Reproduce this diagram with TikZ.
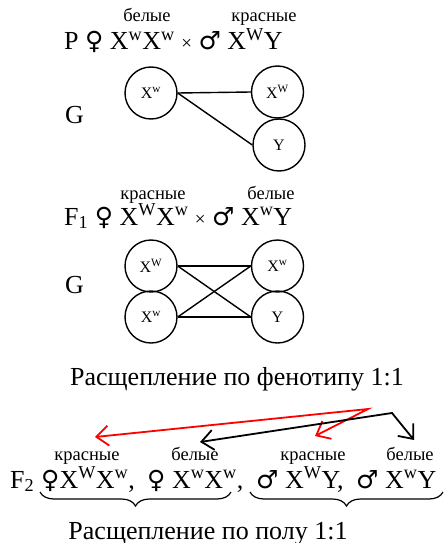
\documentclass[tikz,border=0pt]{standalone}
\usepackage{fontspec}
\setmainfont{Liberation Serif}
\newfontfamily\symf{DejaVu Sans}
\usetikzlibrary{arrows.meta,decorations.pathreplacing}
\newcommand\bigf{\fontsize{26}{28}\selectfont}
\newcommand\smallf{\fontsize{18.5}{20}\selectfont}
\newcommand\circf{\fontsize{16}{18}\selectfont}
\newcommand\su[1]{\textsuperscript{#1}}
\newcommand\fem{{\symf\fontsize{25}{26}\selectfont ♀}}
\newcommand\mal{{\symf\fontsize{25}{26}\selectfont ♂}}
\newcommand\tms{{\fontsize{19}{20}\selectfont×}}
\begin{document}
\begin{tikzpicture}[x=1pt,y=-1pt,
  bigtext/.style={font=\bigf,inner sep=0pt,anchor=base west},
  lbl/.style={font=\smallf,inner sep=0pt,anchor=base},
  gam/.style={circle,draw,line width=1.4pt,minimum size=52pt,inner sep=0pt,font=\circf},
  link/.style={line width=1.4pt},
  redarr/.style={line width=1.8pt,red,{Straight Barb[length=12pt,width=20pt]}-{Straight Barb[length=12pt,width=20pt]}},
  blkarr/.style={line width=1.8pt,black,{Straight Barb[length=12pt,width=20pt]}-{Straight Barb[length=12pt,width=20pt]}},
  brc/.style={decorate,decoration={brace,mirror,amplitude=14pt},line width=1.2pt}]
\useasboundingbox (0,0) rectangle (445,543);
% P
\node[lbl] (pb) at (147,22) {белые};
\node[lbl] (pk) at (264,22) {красные};
\node[bigtext] (pl) at (64,50) {P \fem\ X\su{w}X\su{w} \tms\ \mal\ X\su{W}Y};
\node[bigtext] (g1) at (65,123) {G};
\node[gam] (a1) at (151,93) {X\su{w}};
\node[gam] (b1) at (277.5,92) {X\su{W}};
\node[gam] (c1) at (279,145) {Y};
\draw[link] (a1.east) -- (b1.west);
\draw[link] (a1.east) -- (c1.west);
% F1
\node[lbl] (fk) at (153,199) {красные};
\node[lbl] (fb) at (271,199) {белые};
\node[bigtext] (fl) at (64,225) {F\textsubscript{1} \fem\ X\su{W}X\su{w} \tms\ \mal\ X\su{w}Y};
\node[bigtext] (g2) at (65,293) {G};
\node[gam] (a2) at (151,266) {X\su{W}};
\node[gam] (d2) at (151,317) {X\su{w}};
\node[gam] (b2) at (277.5,266) {X\su{w}};
\node[gam] (c2) at (277.5,317) {Y};
\draw[link] (a2.east) -- (b2.west);
\draw[link] (a2.east) -- (c2.west);
\draw[link] (d2.east) -- (b2.west);
\draw[link] (d2.east) -- (c2.west);
% phenotype
\node[font=\bigf,inner sep=0pt,anchor=base] (ph) at (237,385) {Расщепление по фенотипу 1:1};
% F2
\node[lbl] (k1) at (87,460) {красные};
\node[lbl] (w1) at (195,460) {белые};
\node[lbl] (k2) at (313,460) {красные};
\node[lbl] (w2) at (410,460) {белые};
\node[bigtext] (f2) at (10,488) {F\textsubscript{2}};
\node[bigtext] (g21) at (41,488) {\fem X\su{W}X\su{w},};
\node[bigtext] (g22) at (147,488) {\fem\ X\su{w}X\su{w},};
\node[bigtext] (g23) at (256,488) {\mal\ X\su{W}Y,};
\node[bigtext] (g24) at (356,488) {\mal\ X\su{w}Y};
\coordinate (r0) at (368,409);
\coordinate (r1) at (95,437);
\coordinate (r2) at (315,436);
\coordinate (k0) at (392,413);
\coordinate (kl) at (200,442);
\coordinate (kr) at (414,440);
\draw[redarr] (r1) -- (r0) -- (r2);
\draw[blkarr] (kl) -- (k0) -- (kr);
\coordinate (b1s) at (40,492);
\coordinate (b1e) at (231,492);
\coordinate (b2s) at (250,492);
\coordinate (b2e) at (443,492);
\draw[brc] (b1s) -- (b1e);
\draw[brc] (b2s) -- (b2e);
\node[font=\bigf,inner sep=0pt,anchor=base] (sx) at (208,539) {Расщепление по полу 1:1};
\end{tikzpicture}
\end{document}
